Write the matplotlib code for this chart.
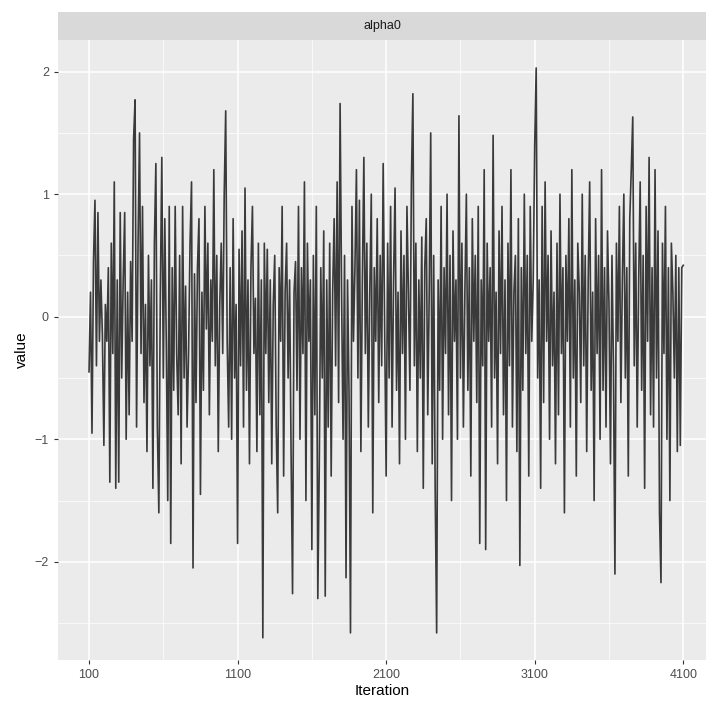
import matplotlib.pyplot as plt
import numpy as np

plt.rcParams['font.family'] = ['Liberation Sans', 'DejaVu Sans']

values = [
    -0.45, 0.2, -0.95, 0.45, 0.95, -0.4, 0.85, -0.2, 0.3, -0.15, -1.05, 0.1, -0.2, 0.4, -1.35, 0.6, -0.3, 1.1, -1.4, 0.3,
    -1.35, 0.85, -0.5, 0.3, 0.85, -1.0, 0.2, -0.8, 0.45, -0.2, 1.45, 1.77, -0.9, 0.6, 1.5, -0.3, 0.9, -0.7, 0.1, -1.1,
    0.5, -0.4, 0.3, -1.4, 0.6, 1.25, -0.9, -1.6, 0.2, 1.3, -0.5, 0.8, -0.2, -1.5, 0.9, -1.85, 0.4, -0.6, 0.9, -0.3,
    -0.8, 0.5, -1.2, 0.9, -0.5, 0.25, -0.9, -0.3, 0.6, 1.1, -2.05, 0.35, -0.7, 0.4, 0.8, -1.45, 0.2, -0.6, 0.9, -0.1,
    0.6, -0.8, 0.3, -0.2, 1.2, -0.4, 0.5, -1.1, 0.1, 0.6, -0.3, 1.0, 1.68, -0.2, -0.9, 0.4, -1.0, 0.8, -0.5, 0.1,
    -1.85, 0.55, -0.4, 0.7, -0.9, 1.05, -0.6, 0.3, -1.2, 0.4, 0.9, -0.3, 0.15, -1.1, 0.6, -0.8, 0.3, -2.62, 0.6, -0.3,
    0.55, -0.7, 0.3, -1.2, 0.1, 0.5, -0.9, -1.6, 0.4, -0.2, 0.9, -1.3, 0.2, 0.6, -0.5, 0.3, -1.1, -2.26, 0.2, 0.45,
    -0.6, 0.9, -1.0, 0.4, -0.3, 1.1, -1.5, 0.6, -0.2, 0.3, -1.9, 0.5, -0.8, 0.9, -2.3, -1.2, 0.4, -0.5, 0.7, -2.28,
    0.3, -0.9, 0.6, -1.3, 0.2, 0.8, -0.4, 1.1, -0.7, 1.74, 0.2, -1.0, 0.5, -2.13, 0.3, -0.6, -2.58, 0.9, -0.2, 0.4,
    1.2, -0.5, 0.95, -1.1, 0.3, 1.3, -0.3, 0.6, -0.9, 0.2, 1.0, -1.6, 0.4, -0.2, 0.8, -0.7, 0.5, -0.4, 1.25, -0.1,
    -1.3, 0.6, -0.5, 0.9, -0.9, 0.3, 1.05, -0.6, 0.2, -1.2, 0.7, -0.3, 0.5, -1.0, 0.9, 0.2, -0.6, 1.1, 1.82, -0.4,
    0.6, -1.1, 0.3, -0.5, 0.65, -1.4, 0.4, 0.8, -0.8, 0.2, 1.5, -1.2, 0.5, -1.4, -2.58, 0.3, -0.6, 0.9, -1.0, 0.4,
    -0.3, 1.0, -0.8, 0.5, -1.5, 0.7, -0.2, 0.3, -1.0, 1.64, -0.5, 0.6, -0.9, 0.2, 1.0, -0.6, 0.4, -1.3, 0.8, -0.2,
    0.5, -0.7, 0.9, -1.85, 0.3, -0.4, 1.2, -1.9, 0.6, -0.2, 0.4, -0.9, 1.48, -0.5, 0.2, -1.2, 0.7, -0.3, 0.9, -0.8,
    0.3, -1.5, 0.6, -0.4, 1.2, -0.9, 0.2, 0.5, -1.1, 0.8, -2.03, 0.4, -0.6, 1.0, -0.3, 0.5, -1.3, 0.9, -0.2, 0.3,
    1.4, 2.03, -0.5, 0.3, -1.4, 0.9, -0.7, 1.1, -0.2, 0.5, -1.0, 0.7, -0.4, 0.2, -1.2, 0.6, -0.8, 1.0, -0.3, 0.4,
    -1.6, 0.5, -0.2, 0.8, -0.9, 1.2, -0.5, 0.3, -1.3, 0.6, 0.2, -0.7, 1.0, -0.4, 0.5, -1.1, 0.3, 1.1, -0.6, 0.2,
    -1.5, 0.8, -0.3, 0.5, -1.0, 1.2, -0.6, 0.4, -0.9, 0.7, 0.1, -1.2, 0.5, -0.4, -2.1, 0.6, -0.2, 0.9, -0.7, 0.3,
    1.0, -0.5, 0.4, -1.3, 0.8, 1.2, 1.63, -0.4, 0.6, -0.9, 0.3, 1.1, -0.6, 0.5, -1.4, 0.9, -0.2, 1.3, -0.8, 0.4,
    -0.9, 1.2, -0.5, 0.7, -1.6, -2.17, 0.6, -0.3, 0.9, -1.0, 0.4, -1.5, 0.6, 0.2, -0.5, 0.5, -1.1, 0.4, -1.05, 0.4,
    0.42,
]
iterations = [100 + 10 * i for i in range(len(values))]
x_ticks = [100, 1100, 2100, 3100, 4100]
y_ticks = [-2, -1, 0, 1, 2]

fig = plt.figure(figsize=(7.07, 7.11), dpi=100)
ax = fig.add_axes([0.082, 0.072, 0.917, 0.872])
ax.set_facecolor('#EBEBEB')
ax.plot(iterations, values, color='#3A3A3A', lw=1.2, zorder=3)

ax.set_xlim(-109, 4255)
ax.set_ylim(-2.8, 2.26)
ax.set_xticks(x_ticks)
ax.set_yticks(y_ticks)
ax.set_yticklabels(['\u22122', '\u22121', '0', '1', '2'])
ax.set_xticks([600, 1600, 2600, 3600], minor=True)
ax.set_yticks([-2.5, -1.5, -0.5, 0.5, 1.5], minor=True)
ax.grid(which='major', color='white', lw=1.1, zorder=0)
ax.grid(which='minor', color='white', lw=0.5, zorder=0)
ax.set_axisbelow(True)
for s in ax.spines.values():
    s.set_visible(False)
ax.tick_params(which='major', length=3, color='#333333', labelsize=9, labelcolor='#4D4D4D')
ax.tick_params(which='minor', length=0)
ax.set_xlabel('Iteration', fontsize=11, labelpad=2)
ax.set_ylabel('value', fontsize=11, labelpad=4)

strip = fig.add_axes([0.082, 0.944, 0.917, 0.039])
strip.set_facecolor('#D9D9D9')
strip.set_xticks([])
strip.set_yticks([])
for s in strip.spines.values():
    s.set_visible(False)
strip.text(0.5, 0.5, 'alpha0', ha='center', va='center', fontsize=9, color='#1A1A1A')

fig.savefig('out.png', dpi=100)
